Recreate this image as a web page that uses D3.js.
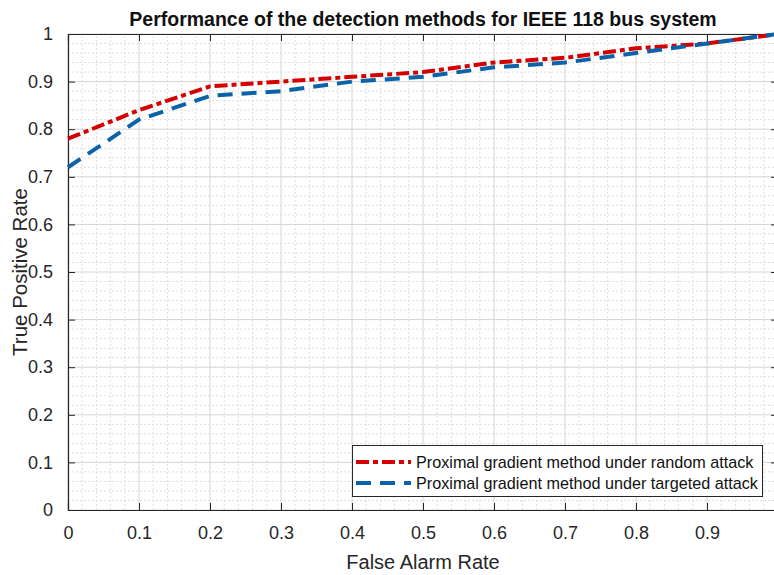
<!DOCTYPE html>
<html>
<head>
<meta charset="utf-8">
<script src="https://cdn.jsdelivr.net/npm/d3@7"></script>
<style>
  body { margin: 0; background: #fff; overflow: hidden; }
  svg { display: block; font-family: "Liberation Sans", Arial, sans-serif; }
</style>
</head>
<body>
<div id="chartDiv"></div>
<script>
var width = 774;
var height = 575;

// data
var falseAlarm = [0, 0.1, 0.2, 0.3, 0.4, 0.5, 0.6, 0.7, 0.8, 0.9, 1.0];
var randomTPR = [0.78, 0.84, 0.89, 0.90, 0.91, 0.92, 0.94, 0.95, 0.97, 0.98, 1.0];
var targetedTPR = [0.72, 0.82, 0.87, 0.88, 0.90, 0.91, 0.93, 0.94, 0.96, 0.98, 1.0];
var xTicks = [0, 0.1, 0.2, 0.3, 0.4, 0.5, 0.6, 0.7, 0.8, 0.9];
var yTicks = [0, 0.1, 0.2, 0.3, 0.4, 0.5, 0.6, 0.7, 0.8, 0.9, 1];
var seriesNames = ["Proximal gradient method under random attack", "Proximal gradient method under targeted attack"];

var margin = {top: 34, right: -4, bottom: 65, left: 68};

var x = d3.scaleLinear().domain([0, 1]).range([margin.left, width - margin.right]);
var y = d3.scaleLinear().domain([0, 1]).range([height - margin.bottom, margin.top]);

var svg = d3.select("#chartDiv")
    .append("svg")
    .attr("width", width)
    .attr("height", height);

// minor grid
var minor = d3.range(0, 1.0001, 0.02).filter(v => Math.abs(v * 10 - Math.round(v * 10)) > 1e-6);
var grid = svg.append("g");
grid.selectAll(".mx").data(minor).join("line")
    .attr("x1", d => x(d)).attr("x2", d => x(d))
    .attr("y1", y(0)).attr("y2", y(1))
    .attr("stroke", "#dedede").attr("stroke-dasharray", "2,2");
grid.selectAll(".my").data(minor).join("line")
    .attr("y1", d => y(d)).attr("y2", d => y(d))
    .attr("x1", x(0)).attr("x2", x(1))
    .attr("stroke", "#dedede").attr("stroke-dasharray", "2,2");

// major grid
grid.selectAll(".gx").data(yTicks).join("line")
    .attr("x1", d => x(d)).attr("x2", d => x(d))
    .attr("y1", y(0)).attr("y2", y(1))
    .attr("stroke", "#d4d4d4");
grid.selectAll(".gy").data(yTicks).join("line")
    .attr("y1", d => y(d)).attr("y2", d => y(d))
    .attr("x1", x(0)).attr("x2", x(1))
    .attr("stroke", "#d4d4d4");

// axes
var xAxis = svg.append("g")
    .attr("transform", `translate(0,${y(0)})`)
    .call(d3.axisBottom(x).tickValues(xTicks).tickSize(-7).tickPadding(16).tickFormat(d3.format("")));
var xTop = svg.append("g")
    .attr("transform", `translate(0,${y(1)})`)
    .call(d3.axisTop(x).tickValues(xTicks).tickSize(-7).tickFormat(""));
var yAxis = svg.append("g")
    .attr("transform", `translate(${x(0)},0)`)
    .call(d3.axisLeft(y).tickValues(yTicks).tickSize(-7).tickPadding(15).tickFormat(d3.format("")));
var yRight = svg.append("g")
    .attr("transform", `translate(${x(1)},0)`)
    .call(d3.axisRight(y).tickValues(yTicks).tickSize(-7).tickFormat(""));

[xAxis, xTop, yAxis, yRight].forEach(a => {
    a.select(".domain").attr("stroke", "#262626").attr("stroke-width", 1.2);
    a.selectAll(".tick line").attr("stroke", "#262626");
    a.selectAll("text").attr("font-size", 18).attr("fill", "#262626")
        .attr("font-family", "'Liberation Sans', Arial, sans-serif");
});
xAxis.selectAll("text").attr("dy", "0.71em").attr("y", 16);

// lines
var line = d3.line().x(d => x(d[0])).y(d => y(d[1]));
var redData = falseAlarm.map((f, i) => [f, randomTPR[i]]);
var blueData = falseAlarm.map((f, i) => [f, targetedTPR[i]]);

svg.append("path").datum(redData)
    .attr("d", line).attr("fill", "none")
    .attr("stroke", "#d50000").attr("stroke-width", 4)
    .attr("stroke-dasharray", "13,4,5,4");
svg.append("path").datum(blueData)
    .attr("d", line).attr("fill", "none")
    .attr("stroke", "#0a62a8").attr("stroke-width", 4)
    .attr("stroke-dasharray", "15,9");

// title
svg.append("text")
    .attr("x", (x(0) + x(1)) / 2).attr("y", 26)
    .attr("text-anchor", "middle")
    .attr("font-size", 19.5).attr("font-weight", "bold").attr("fill", "#111")
    .text("Performance of the detection methods for IEEE 118 bus system");

// axis labels
svg.append("text")
    .attr("x", (x(0) + x(1)) / 2).attr("y", 569)
    .attr("text-anchor", "middle").attr("font-size", 20).attr("fill", "#262626")
    .text("False Alarm Rate");
svg.append("text")
    .attr("transform", `translate(27,${(y(0) + y(1)) / 2}) rotate(-90)`)
    .attr("text-anchor", "middle").attr("font-size", 20.5).attr("fill", "#262626")
    .text("True Positive Rate");

// legend
var legend = svg.append("g");
legend.append("rect")
    .attr("x", 352.5).attr("y", 445.5).attr("width", 410).attr("height", 51)
    .attr("fill", "#fff").attr("stroke", "#262626").attr("stroke-width", 1);
var legStyles = [
    {color: "#d50000", dash: "13,4,5,4"},
    {color: "#0a62a8", dash: "15,9"}
];
seriesNames.forEach((name, i) => {
    var cy = 462 + i * 21;
    legend.append("line")
        .attr("x1", 356).attr("x2", 411).attr("y1", cy).attr("y2", cy)
        .attr("stroke", legStyles[i].color).attr("stroke-width", 4)
        .attr("stroke-dasharray", legStyles[i].dash);
    legend.append("text")
        .attr("x", 416).attr("y", cy).attr("dy", "0.35em")
        .attr("font-size", 16.2).attr("fill", "#111")
        .text(name);
});
</script>
</body>
</html>
